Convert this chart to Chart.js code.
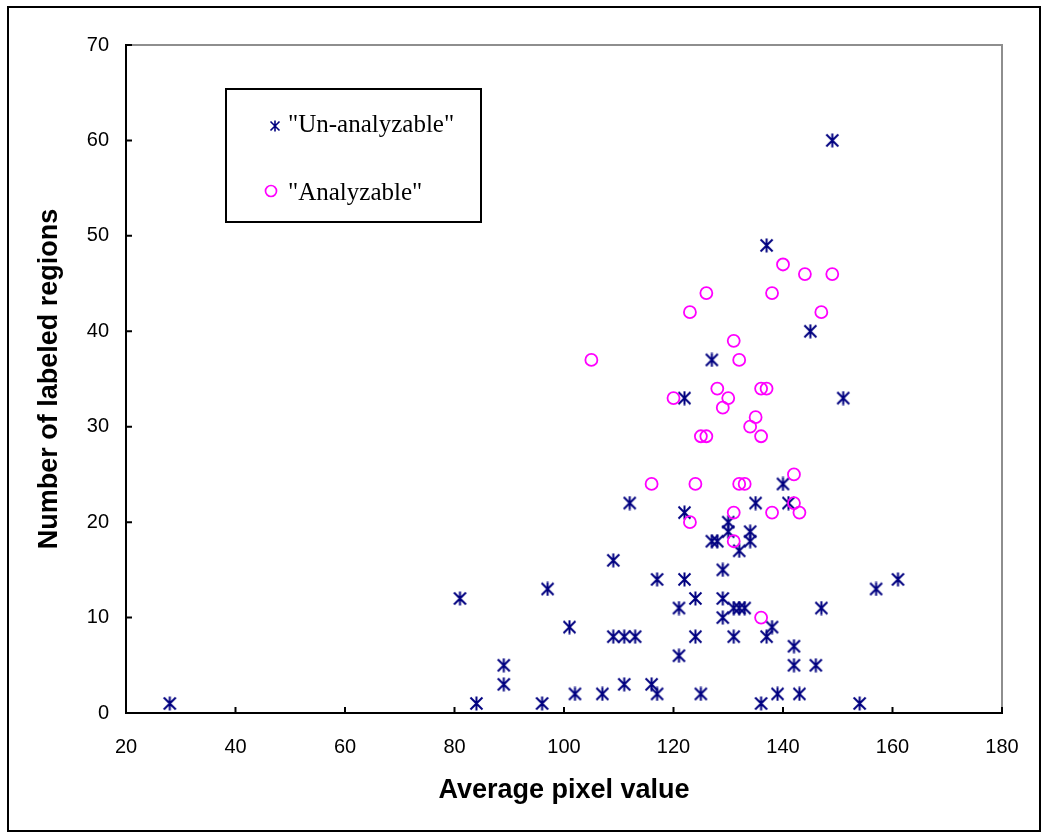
<!DOCTYPE html>
<html>
<head>
<meta charset="utf-8">
<title>Number of labeled regions vs average pixel value</title>
<script src="https://cdn.jsdelivr.net/npm/chart.js@4.4.1/dist/chart.umd.min.js"></script>
<style>
    body { margin: 0; background: #fff; }
    #wrap { position: relative; width: 1050px; height: 838px; }
</style>
</head>
<body>
<div id="wrap"><canvas id="chart"></canvas></div>
<script>
// values
const unanalyzableX = [28, 81, 84, 89, 89, 96, 97, 101, 102, 107, 109, 109, 111, 113, 111, 112, 116, 117, 117, 121,
    121, 122, 122, 122, 124, 124, 125, 127, 127, 128, 129, 129, 129, 130, 130, 131, 131, 132, 133, 132,
    134, 134, 135, 136, 137, 137, 138, 139, 140, 141, 142, 142, 143, 145, 146, 147, 149, 151, 154, 157, 161];
const unanalyzableY = [1, 12, 1, 5, 3, 1, 13, 9, 2, 2, 16, 8, 8, 8, 3, 22, 3, 2, 14, 6,
    11, 14, 33, 21, 12, 8, 2, 37, 18, 18, 15, 12, 10, 20, 19, 8, 11, 11, 11, 17,
    19, 18, 22, 1, 8, 49, 9, 2, 24, 22, 7, 5, 2, 40, 5, 11, 60, 33, 1, 13, 14];

const analyzableX = [140, 144, 149, 126, 138, 123, 147, 131, 132, 105, 128, 136, 137, 120, 130, 129, 135,
    134, 125, 126, 136, 116, 124, 132, 133, 142, 142, 138, 143, 131, 123, 131, 136];
const analyzableY = [47, 46, 46, 44, 44, 42, 42, 39, 37, 37, 34, 34, 34, 33, 33, 32, 31,
    30, 29, 29, 29, 24, 24, 24, 24, 25, 22, 21, 21, 21, 20, 18, 10];

const xTicks = [20, 40, 60, 80, 100, 120, 140, 160, 180];
const yTicks = [0, 10, 20, 30, 40, 50, 60, 70];
const seriesNames = ['"Un-analyzable"', '"Analyzable"'];

const NAVY = '#000080';
const MAGENTA = '#ff00ff';

// Excel style asterisk: an X with a vertical bar through it
function makeAsterisk(size, color, lw) {
    const c = document.createElement('canvas');
    c.width = size;
    c.height = size;
    const g = c.getContext('2d');
    g.strokeStyle = color;
    g.lineWidth = lw;
    const m = 1.5, h = size / 2;
    g.beginPath();
    g.moveTo(m, m); g.lineTo(size - m, size - m);
    g.moveTo(size - m, m); g.lineTo(m, size - m);
    g.moveTo(h, 0.5); g.lineTo(h, size - 0.5);
    g.stroke();
    return c;
}

const starBig = makeAsterisk(15, NAVY, 2);
const starSmall = makeAsterisk(12, NAVY, 1.6);

const framePlugin = {
    id: 'frame',
    beforeDraw(chart) {
        const ctx = chart.ctx;
        ctx.save();
        ctx.fillStyle = '#fff';
        ctx.fillRect(0, 0, chart.width, chart.height);
        ctx.restore();
    },
    afterDraw(chart) {
        const { ctx, chartArea: a, scales } = chart;
        ctx.save();

        // grey top and right edge of the plot area
        ctx.strokeStyle = '#8e8e8e';
        ctx.lineWidth = 2;
        ctx.beginPath();
        ctx.moveTo(a.left, a.top);
        ctx.lineTo(a.right, a.top);
        ctx.lineTo(a.right, a.bottom);
        ctx.stroke();

        // tick marks pointing into the plot
        ctx.strokeStyle = '#000';
        ctx.beginPath();
        scales.x.ticks.forEach(t => {
            const px = scales.x.getPixelForValue(t.value);
            ctx.moveTo(px, a.bottom);
            ctx.lineTo(px, a.bottom - 6);
        });
        scales.y.ticks.forEach(t => {
            const py = scales.y.getPixelForValue(t.value);
            ctx.moveTo(a.left, py);
            ctx.lineTo(a.left + 6, py);
        });
        ctx.stroke();

        // outer frame of the picture
        ctx.strokeRect(8, 7, 1032, 824);

        // legend box
        ctx.fillStyle = '#fff';
        ctx.fillRect(226, 89, 255, 133);
        ctx.strokeRect(226, 89, 255, 133);
        ctx.drawImage(starSmall, 275 - 6, 126 - 6);
        ctx.strokeStyle = MAGENTA;
        ctx.lineWidth = 1.7;
        ctx.beginPath();
        ctx.arc(271, 191, 5.5, 0, Math.PI * 2);
        ctx.stroke();
        ctx.fillStyle = '#000';
        ctx.font = '25px "Liberation Serif", "Times New Roman", serif';
        ctx.textBaseline = 'alphabetic';
        ctx.fillText(seriesNames[0], 288, 132);
        ctx.fillText(seriesNames[1], 288, 200);

        ctx.restore();
    }
};

const unanalyzable = unanalyzableX.map((x, i) => ({ x: x, y: unanalyzableY[i] }));
const analyzable = analyzableX.map((x, i) => ({ x: x, y: analyzableY[i] }));

const tickFont = { family: '"Liberation Sans", Arial, sans-serif', size: 20 };
const titleFont = { family: '"Liberation Sans", Arial, sans-serif', size: 27, weight: 'bold' };

new Chart(document.getElementById('chart'), {
    type: 'scatter',
    data: {
        datasets: [
            {
                label: seriesNames[0],
                data: unanalyzable,
                pointStyle: starBig,
                pointRadius: 7,
                order: 1
            },
            {
                label: seriesNames[1],
                data: analyzable,
                pointStyle: 'circle',
                pointRadius: 6,
                borderColor: MAGENTA,
                backgroundColor: 'rgba(0,0,0,0)',
                borderWidth: 1.8,
                order: 0
            }
        ]
    },
    options: {
        responsive: true,
        maintainAspectRatio: false,
        animation: false,
        layout: { padding: { top: 45, right: 48, left: 0, bottom: 0 } },
        plugins: {
            legend: { display: false },
            tooltip: { enabled: false }
        },
        scales: {
            x: {
                type: 'linear',
                min: 20,
                max: 180,
                afterBuildTicks: s => { s.ticks = xTicks.map(v => ({ value: v })); },
                afterFit: s => { s.height = 125; },
                grid: { display: false, drawTicks: false },
                border: { display: true, color: '#000', width: 2 },
                ticks: { color: '#000', font: tickFont, padding: 22, maxRotation: 0 },
                title: {
                    display: true,
                    text: 'Average pixel value',
                    color: '#000',
                    font: titleFont,
                    padding: { top: 0, bottom: 31 }
                }
            },
            y: {
                type: 'linear',
                min: 0,
                max: 70,
                afterBuildTicks: s => { s.ticks = yTicks.map(v => ({ value: v })); },
                afterFit: s => { s.width = 126; },
                grid: { display: false, drawTicks: false },
                border: { display: true, color: '#000', width: 2 },
                ticks: { color: '#000', font: tickFont, padding: 17 },
                title: {
                    display: true,
                    text: 'Number of labeled regions',
                    color: '#000',
                    font: titleFont,
                    padding: { top: 33, bottom: 0 }
                }
            }
        }
    },
    plugins: [framePlugin]
});
</script>
</body>
</html>
